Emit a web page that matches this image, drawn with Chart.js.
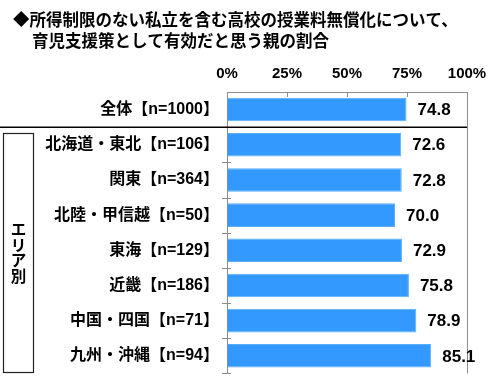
<!DOCTYPE html>
<html>
<head>
<meta charset="utf-8">
<script src="https://cdn.jsdelivr.net/npm/chart.js@4"></script>
<style>
  html, body { margin: 0; padding: 0; background: #fff; }
  #wrap { width: 500px; height: 391px; position: relative; }
</style>
</head>
<body>
<div id="wrap"><canvas id="chart" width="500" height="391"></canvas></div>
<script>
const titleLines = [
  "◆所得制限のない私立を含む高校の授業料無償化について、",
  "育児支援策として有効だと思う親の割合"
];
const categories = [
  "全体【n=1000】",
  "北海道・東北【n=106】",
  "関東【n=364】",
  "北陸・甲信越【n=50】",
  "東海【n=129】",
  "近畿【n=186】",
  "中国・四国【n=71】",
  "九州・沖縄【n=94】"
];
const values = [74.8, 72.6, 72.8, 70.0, 72.9, 75.8, 78.9, 85.1];
const xTicks = [0, 25, 50, 75, 100];
const groupLabel = ["エ", "リ", "ア", "別"];

const JP = "'Liberation Sans', 'Noto Sans CJK JP', sans-serif";

const decor = {
  id: "decor",
  afterDraw(c) {
    const ctx = c.ctx;
    const a = c.chartArea;
    const x = c.scales.x;
    const step = (a.bottom - a.top) / categories.length;
    ctx.save();

    // title
    ctx.fillStyle = "#000";
    ctx.font = "bold 16.5px 'Noto Sans CJK JP', sans-serif";
    ctx.textBaseline = "middle";
    ctx.textAlign = "left";
    ctx.fillText(titleLines[0], 13, 20);
    ctx.fillText(titleLines[1], 32, 41);

    // plot frame: right border, top ticks, left ticks
    ctx.strokeStyle = "#8c8c8c";
    ctx.lineWidth = 1;
    ctx.beginPath();
    ctx.moveTo(a.right + 0.5, a.top);
    ctx.lineTo(a.right + 0.5, a.bottom);
    xTicks.slice(1, -1).forEach(t => {
      const px = Math.round(x.getPixelForValue(t)) + 0.5;
      ctx.moveTo(px, a.top);
      ctx.lineTo(px, a.top + 5);
    });
    for (let i = 1; i <= categories.length; i++) {
      const py = Math.round(a.top + i * step) + 0.5;
      ctx.moveTo(a.left - 5, py);
      ctx.lineTo(a.left + 4, py);
    }
    ctx.stroke();

    // separator after 全体
    ctx.strokeStyle = "#000";
    ctx.lineWidth = 1.5;
    ctx.beginPath();
    ctx.moveTo(0, a.top + step);
    ctx.lineTo(a.right, a.top + step);
    ctx.stroke();

    // group box
    ctx.lineWidth = 1.2;
    ctx.strokeStyle = "#222";
    ctx.strokeRect(3.5, 133.5, 30, 239);
    ctx.font = "bold 15.5px 'Noto Sans CJK JP', sans-serif";
    ctx.textAlign = "center";
    const mid = (133 + 372) / 2;
    groupLabel.forEach((ch, i) => {
      ctx.fillText(ch, 18.5, mid + (i - 1.5) * 15.5);
    });

    // value labels
    ctx.font = "bold 17px " + JP;
    ctx.textAlign = "left";
    const meta = c.getDatasetMeta(0);
    meta.data.forEach((bar, i) => {
      ctx.fillText(values[i].toFixed(1), bar.x + 11, bar.y + 1);
    });
    ctx.restore();
  }
};

new Chart(document.getElementById("chart"), {
  type: "bar",
  data: {
    labels: categories,
    datasets: [{
      data: values,
      backgroundColor: "#3399ff",
      borderColor: "#5aaeff",
      borderWidth: 1,
      categoryPercentage: 1,
      barPercentage: 0.67
    }]
  },
  options: {
    indexAxis: "y",
    responsive: false,
    animation: false,
    layout: { padding: { top: 0, right: 33, bottom: 13, left: 0 } },
    plugins: { legend: { display: false }, title: { display: false }, tooltip: { enabled: false } },
    scales: {
      x: {
        position: "top",
        min: 0, max: 100,
        afterFit: s => { s.height = 92; },
        afterBuildTicks: s => { s.ticks = xTicks.map(v => ({ value: v })); },
        ticks: {
          padding: 9,
          color: "#000",
          font: { family: JP, size: 15, weight: "bold" },
          callback: v => v + "%"
        },
        grid: { display: true, drawOnChartArea: false, drawTicks: false },
        border: { display: true, color: "#8c8c8c" }
      },
      y: {
        afterFit: s => { s.width = 227; },
        ticks: {
          padding: 8,
          color: "#000",
          font: { family: JP, size: 16, weight: "bold" }
        },
        grid: { display: false, drawTicks: false },
        border: { display: true, color: "#8c8c8c" }
      }
    }
  },
  plugins: [decor]
});
</script>
</body>
</html>
